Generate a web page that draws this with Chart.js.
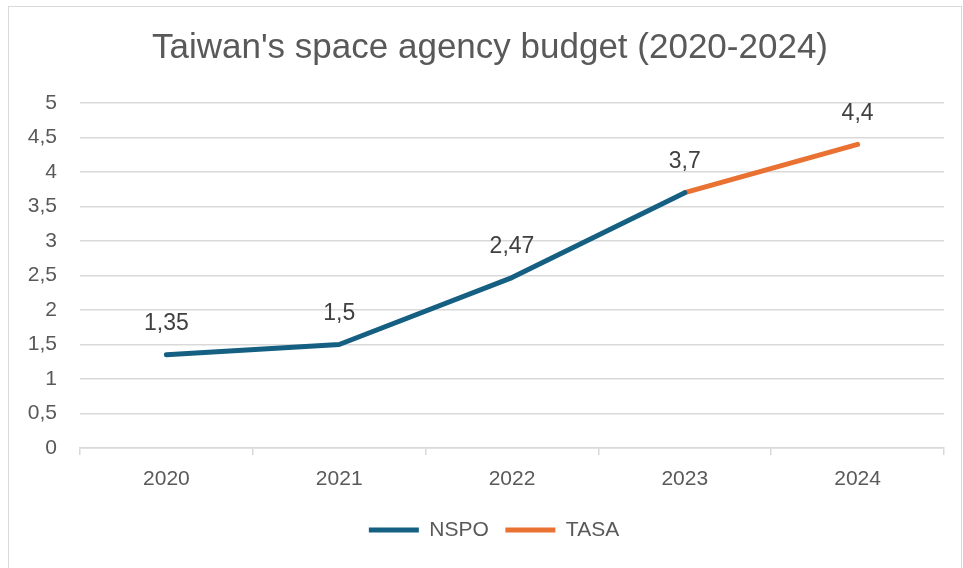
<!DOCTYPE html>
<html>
<head>
<meta charset="utf-8">
<script src="https://cdn.jsdelivr.net/npm/chart.js@4.4.1/dist/chart.umd.min.js"></script>
<style>
  body { margin: 0; background: #fff; }
  .frame { position: absolute; left: 8px; top: 6px; width: 952px; height: 600px; border: 1px solid #d9d9d9; }
  .wrap { position: absolute; left: 0; top: 0; width: 963px; height: 568px; }
</style>
</head>
<body>
<div class="frame"></div>
<div class="wrap"><canvas id="myChart"></canvas></div>
<script>
const years = ['2020', '2021', '2022', '2023', '2024'];
const nspo = [1.35, 1.5, 2.47, 3.7, null];
const tasa = [null, null, null, 3.7, 4.4];
const yTicks = [0, 0.5, 1, 1.5, 2, 2.5, 3, 3.5, 4, 4.5, 5];

const fontFam = "'Liberation Sans', Arial, sans-serif";

function comma(v){
  return String(v).replace('.', ',');
}

// draws the value above each point, once per category
const valueLabels = {
  id: 'valueLabels',
  afterDatasetsDraw(chart){
    const c = chart.ctx;
    const done = {};
    c.save();
    c.font = '23px ' + fontFam;
    c.fillStyle = '#404040';
    c.textAlign = 'center';
    c.textBaseline = 'middle';
    chart.data.datasets.forEach((ds, d) => {
      const meta = chart.getDatasetMeta(d);
      ds.data.forEach((v, i) => {
        if (v === null || done[i]) return;
        done[i] = true;
        const pt = meta.data[i];
        c.fillText(comma(v), pt.x, pt.y - 31);
      });
    });
    c.restore();
  }
};

// excel centres title and legend a bit to the right of the canvas centre
const nudge = {
  id: 'nudge',
  afterLayout(chart){
    chart.titleBlock.left += 18;
    chart.titleBlock.right += 18;
    chart.legend.left += 22;
    chart.legend.right += 22;
  }
};

const ctx = document.getElementById('myChart');

new Chart(ctx, {
  type: 'line',
  data: {
    labels: years,
    datasets: [
      {
        label: 'NSPO',
        data: nspo,
        borderColor: '#156082',
        backgroundColor: '#156082',
        borderWidth: 5,
        borderCapStyle: 'round',
        borderJoinStyle: 'round',
        pointRadius: 0
      },
      {
        label: 'TASA',
        data: tasa,
        borderColor: '#E97132',
        backgroundColor: '#E97132',
        borderWidth: 5,
        borderCapStyle: 'round',
        borderJoinStyle: 'round',
        pointRadius: 0
      }
    ]
  },
  options: {
    responsive: true,
    maintainAspectRatio: false,
    animation: false,
    layout: { padding: { left: 0, right: 19, top: 0, bottom: 17.5 } },
    plugins: {
      title: {
        display: true,
        text: "Taiwan's space agency budget (2020-2024)",
        color: '#595959',
        font: { family: fontFam, size: 35, weight: 'normal' },
        padding: { top: 27, bottom: 34 }
      },
      legend: {
        position: 'bottom',
        labels: {
          usePointStyle: true,
          pointStyle: 'line',
          pointStyleWidth: 50,
          padding: 16.5,
          color: '#595959',
          font: { family: fontFam, size: 21 }
        }
      },
      tooltip: { enabled: false }
    },
    scales: {
      x: {
        offset: true,
        grid: {
          offset: true,
          drawOnChartArea: false,
          tickLength: 7,
          color: '#d9d9d9',
          lineWidth: 1.5
        },
        border: { color: '#d9d9d9', width: 1.5 },
        ticks: {
          color: '#595959',
          padding: 11.4,
          font: { family: fontFam, size: 21 }
        }
      },
      y: {
        min: 0,
        max: 5,
        afterFit(scale){ scale.width = 80; },
        afterBuildTicks(scale){ scale.ticks = yTicks.map(v => ({ value: v })); },
        grid: { color: '#d9d9d9', lineWidth: 1.5, drawTicks: false },
        border: { display: false },
        ticks: {
          color: '#595959',
          padding: 23,
          font: { family: fontFam, size: 21 },
          callback: (v) => comma(v)
        }
      }
    }
  },
  plugins: [valueLabels, nudge]
});
</script>
</body>
</html>
